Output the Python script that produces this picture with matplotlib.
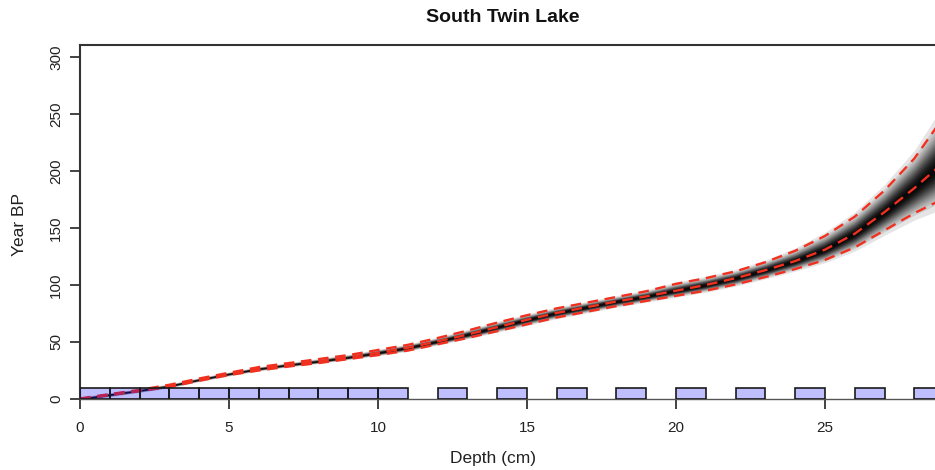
import numpy as np
import matplotlib
matplotlib.use("Agg")
import matplotlib.pyplot as plt
from matplotlib.patches import Rectangle

plt.rcParams['font.family'] = ['Liberation Sans', 'DejaVu Sans']

# Age-depth model summary (depth in cm, age in years BP)
depth = [0, 1, 2, 3, 4, 5, 6, 7, 8, 9, 10, 11, 12, 13, 14, 15, 16, 17, 18, 19,
         20, 21, 22, 23, 24, 25, 26, 27, 28, 29]
age_median = [0, 3.8, 7.5, 11.5, 17, 22, 26.5, 30, 33, 36.5, 40.5, 45, 50.5, 56.5,
              63, 69.5, 75.5, 80.5, 85.5, 90, 95, 100, 106, 113, 121, 131, 145,
              164, 185, 208]
age_upper = [0.5, 4.3, 8, 12.5, 18, 23, 28, 31.5, 35, 38.5, 43, 47.5, 53.5, 60,
             67, 73.5, 79.5, 84.5, 89.5, 94.5, 101, 106, 112, 120, 130, 143, 160,
             183, 211, 248]
age_lower = [0, 3.4, 7, 10.5, 16, 21, 25, 28.5, 31.5, 35, 38.5, 42.5, 48, 53.5,
             59.5, 65.5, 71.5, 76.5, 81.5, 86, 90.5, 95, 100.5, 107, 114, 122, 133,
             148, 163, 176]

# Sampled slices along the core (top depth of each 1-cm slice)
slice_tops = [0, 1, 2, 3, 4, 5, 6, 7, 8, 9, 10, 12, 14, 16, 18, 20, 22, 24, 26, 28]
slice_width = 1
slice_height = 10

x_ticks = [0, 5, 10, 15, 20, 25]
y_ticks = [0, 50, 100, 150, 200, 250, 300]

W, H = 935, 470
fig = plt.figure(figsize=(W / 100, H / 100), dpi=100)
ax = fig.add_axes([80 / W, 71 / H, 894 / W, 354 / H])
ax.set_xlim(0, 30)
ax.set_ylim(0, 310.5)

d = np.array(depth, dtype=float)
med = np.array(age_median, dtype=float)
up = np.array(age_upper, dtype=float)
lo = np.array(age_lower, dtype=float)

# Grey probability cloud: stacked translucent bands around the median
spread = 1.2
sd_u = np.maximum((up - med) / 2.0, 0.7) * spread
sd_l = np.maximum((med - lo) / 2.0, 0.7) * spread
a = 0.10
peak = 0.95
ks = []
i = 1
while True:
    Di = 1 - (1 - a) ** i
    if Di >= peak:
        break
    ks.append(np.sqrt(-2 * np.log(Di / peak)))
    i += 1
for k in ks:
    ax.fill_between(d, med - k * sd_l, med + k * sd_u, color='black',
                    alpha=a, lw=0, zorder=1)

# Median and 95% range
red = '#f2301f'
for series in (up, med, lo):
    ax.plot(d, series, color=red, lw=1.7, ls=(0, (4.5, 2.8)), zorder=2)

# Slices
for top in slice_tops:
    ax.add_patch(Rectangle((top, 0), slice_width, slice_height,
                           facecolor=(0, 0, 1, 0.25), edgecolor='#1a1a1a',
                           lw=1.2, zorder=3))

ax.set_xticks(x_ticks)
ax.set_yticks(y_ticks)
ax.tick_params(axis='both', direction='out', length=7, width=1.2,
               color='#222222', labelsize=11, labelcolor='#222222')
ax.tick_params(axis='x', pad=9)
ax.tick_params(axis='y', pad=5)
for lab in ax.get_yticklabels():
    lab.set_rotation(90)
    lab.set_va('center')

for side in ('left', 'top'):
    ax.spines[side].set_color('#333333')
    ax.spines[side].set_linewidth(1.5)
ax.spines['bottom'].set_color('#555555')
ax.spines['bottom'].set_linewidth(1.0)
ax.spines['right'].set_visible(False)

fig.text(503 / W, 1 - 17 / H, 'South Twin Lake', ha='center', va='center',
         fontsize=14, fontweight='bold', color='#111111')
fig.text(493 / W, 1 - 458 / H, 'Depth (cm)', ha='center', va='center',
         fontsize=12.5, color='#222222')
fig.text(20 / W, 1 - 225 / H, 'Year BP', ha='center', va='center',
         rotation=90, fontsize=12.5, color='#222222')

fig.savefig('out.png', dpi=100)
